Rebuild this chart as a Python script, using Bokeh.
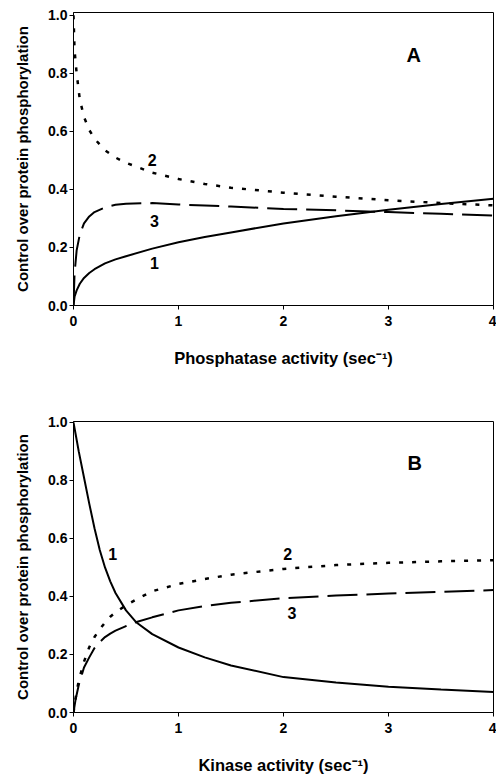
from bokeh.plotting import figure
from bokeh.layouts import column
from bokeh.models import Range1d, FixedTicker, PrintfTickFormatter, Label
from bokeh.embed import file_html
from bokeh.resources import INLINE

FONT = "Liberation Sans"

# ---------------- Panel A: phosphatase activity ----------------
xA = [0, 0.01, 0.03, 0.06, 0.1, 0.15, 0.2, 0.3, 0.4, 0.5, 0.75, 1.0, 1.25, 1.5, 2.0, 2.5, 3.0, 3.5, 4.0]
a_curve1 = [0, 0.03, 0.052, 0.075, 0.095, 0.112, 0.125, 0.145, 0.159, 0.17, 0.196, 0.218, 0.236, 0.252, 0.283, 0.308, 0.33, 0.35, 0.368]
a_curve2 = [1.0, 0.88, 0.80, 0.71, 0.65, 0.605, 0.575, 0.535, 0.51, 0.492, 0.458, 0.436, 0.419, 0.406, 0.389, 0.375, 0.363, 0.353, 0.345]
a_curve3 = [0, 0.11, 0.19, 0.245, 0.283, 0.307, 0.322, 0.338, 0.347, 0.351, 0.353, 0.348, 0.345, 0.341, 0.333, 0.328, 0.322, 0.316, 0.31]

# ---------------- Panel B: kinase activity ----------------
xB = [0, 0.02, 0.05, 0.1, 0.15, 0.2, 0.25, 0.3, 0.35, 0.4, 0.5, 0.6, 0.75, 1.0, 1.25, 1.5, 2.0, 2.5, 3.0, 3.5, 4.0]
b_curve1 = [1.0, 0.96, 0.90, 0.81, 0.72, 0.635, 0.56, 0.50, 0.452, 0.412, 0.352, 0.31, 0.27, 0.224, 0.19, 0.162, 0.122, 0.103, 0.089, 0.079, 0.071]
b_curve2 = [0, 0.05, 0.11, 0.175, 0.225, 0.26, 0.287, 0.31, 0.33, 0.345, 0.37, 0.39, 0.418, 0.443, 0.46, 0.475, 0.495, 0.508, 0.516, 0.521, 0.525]
b_curve3 = [0, 0.045, 0.095, 0.155, 0.19, 0.222, 0.243, 0.26, 0.272, 0.282, 0.298, 0.312, 0.328, 0.352, 0.367, 0.378, 0.394, 0.403, 0.41, 0.416, 0.422]

y_ticks = [0.0, 0.2, 0.4, 0.6, 0.8, 1.0]
x_ticks = [0, 1, 2, 3, 4]
y_label = "Control over protein phosphorylation"


def make_panel(xlabel, ytop, frame_h, border_top, border_bottom, xlabel_standoff):
    p = figure(frame_width=420, frame_height=frame_h,
               min_border_left=73, min_border_right=3,
               min_border_top=border_top, min_border_bottom=border_bottom,
               x_range=Range1d(0, 4), y_range=Range1d(0, ytop),
               output_backend="svg", toolbar_location=None)
    p.grid.visible = False
    p.outline_line_color = "black"
    p.outline_line_width = 1
    p.background_fill_color = "white"
    p.border_fill_color = "white"

    p.xaxis.ticker = FixedTicker(ticks=x_ticks)
    p.yaxis.ticker = FixedTicker(ticks=y_ticks)
    p.xaxis.formatter = PrintfTickFormatter(format="%d")
    p.yaxis.formatter = PrintfTickFormatter(format="%.1f")
    for ax in (p.xaxis, p.yaxis):
        ax.axis_line_color = "black"
        ax.axis_line_width = 1
        ax.major_tick_line_color = "black"
        ax.major_tick_in = 0
        ax.major_tick_out = 4
        ax.minor_tick_line_color = None
        ax.major_label_text_font = FONT
        ax.major_label_text_font_style = "bold"
        ax.major_label_text_font_size = "14px"
        ax.major_label_text_color = "black"
        ax.axis_label_text_font = FONT
        ax.axis_label_text_font_style = "bold"
        ax.axis_label_text_color = "black"
    p.xaxis.major_label_standoff = 6
    p.yaxis.major_label_standoff = 2
    p.xaxis.axis_label = xlabel
    p.xaxis.axis_label_text_font_size = "16.5px"
    p.xaxis.axis_label_standoff = xlabel_standoff
    p.yaxis.axis_label = y_label
    p.yaxis.axis_label_text_font_size = "15px"
    p.yaxis.axis_label_standoff = 14
    return p


def add_label(p, x, y, text, size):
    p.add_layout(Label(x=x, y=y, text=text, text_font=FONT, text_font_style="bold",
                       text_font_size=size, text_align="center", text_baseline="middle",
                       text_color="black"))


# Panel A
pA = make_panel("Phosphatase activity (sec\u207b\u00b9)", 1.010, 293, 12, 90, 20)
pA.line(xA, a_curve1, line_color="black", line_width=2)
pA.line(xA, a_curve2, line_color="black", line_width=2.5, line_dash="4 9")
pA.line(xA, a_curve3, line_color="black", line_width=2, line_dash="30 9")
add_label(pA, 0.75, 0.50, "2", "16px")
add_label(pA, 0.77, 0.293, "3", "16px")
add_label(pA, 0.77, 0.148, "1", "16px")
add_label(pA, 3.24, 0.862, "A", "20px")

# Panel B
pB = make_panel("Kinase activity (sec\u207b\u00b9)", 1.003, 291, 26, 65, 20)
pB.line(xB, b_curve1, line_color="black", line_width=2)
pB.line(xB, b_curve2, line_color="black", line_width=2.5, line_dash="4 9")
pB.line(xB, b_curve3, line_color="black", line_width=2, line_dash="30 9")
add_label(pB, 0.374, 0.547, "1", "16px")
add_label(pB, 2.04, 0.547, "2", "16px")
add_label(pB, 2.08, 0.344, "3", "16px")
add_label(pB, 3.25, 0.861, "B", "20px")

layout = column(pA, pB)
open("out.html", "w").write(file_html(layout, INLINE))
